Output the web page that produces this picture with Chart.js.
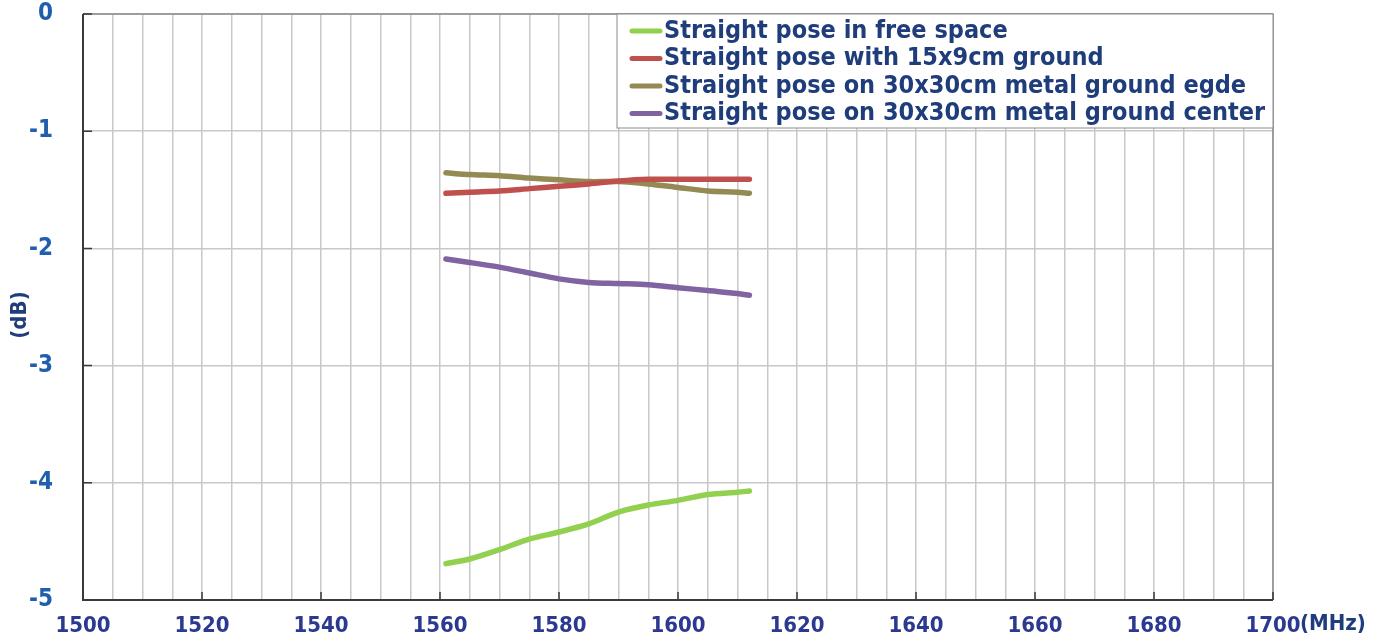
<!DOCTYPE html>
<html>
<head>
<meta charset="utf-8">
<script src="https://cdn.jsdelivr.net/npm/chart.js@4/dist/chart.umd.min.js"></script>
<style>
  html, body { margin: 0; padding: 0; background: #fff; }
  #wrap { width: 1385px; height: 643px; }
</style>
</head>
<body>
<div id="wrap"><canvas id="myChart" width="1385" height="643"></canvas></div>
<script>
// frequencies (MHz)
let freq = [1561, 1565, 1570, 1575, 1580, 1585, 1590, 1595, 1600, 1605, 1610, 1612];

// series values (dB)
let freeSpace  = [-4.69, -4.65, -4.57, -4.48, -4.42, -4.35, -4.25, -4.19, -4.15, -4.10, -4.08, -4.07];
let ground15x9 = [-1.53, -1.52, -1.51, -1.49, -1.47, -1.45, -1.425, -1.41, -1.41, -1.41, -1.41, -1.41];
let metalEdge  = [-1.355, -1.37, -1.38, -1.40, -1.415, -1.43, -1.43, -1.45, -1.48, -1.51, -1.52, -1.53];
let metalCenter = [-2.09, -2.12, -2.16, -2.21, -2.26, -2.29, -2.30, -2.31, -2.335, -2.36, -2.385, -2.40];

let seriesNames = [
    'Straight pose in free space',
    'Straight pose with 15x9cm ground',
    'Straight pose on 30x30cm metal ground egde',
    'Straight pose on 30x30cm metal ground center'
];
let seriesColors = ['#92D050', '#C0504D', '#948A54', '#8064A2'];
let seriesValues = [freeSpace, ground15x9, metalEdge, metalCenter];

// axis ticks
let xMin = 1500, xMax = 1700, xGridStep = 5, xLabelStep = 20;
let yMin = -5, yMax = 0, yStep = 1;

const FONT = "'DejaVu Sans Condensed', 'Liberation Sans', Arial, sans-serif";

function toPoints(vals) {
    return freq.map((f, i) => ({x: f, y: vals[i]}));
}

let datasets = seriesValues.map((vals, i) => ({
    label: seriesNames[i],
    data: toPoints(vals),
    borderColor: seriesColors[i],
    backgroundColor: seriesColors[i],
    borderWidth: 5.5,
    borderCapStyle: 'round',
    borderJoinStyle: 'round',
    pointRadius: 0,
    tension: 0.3,
    fill: false
}));

// frame, inner ticks, legend box and axis titles
let decorPlugin = {
    id: 'decor',
    afterDatasetsDraw(chart) {
        let c = chart.ctx, a = chart.chartArea;
        let xs = chart.scales.x, ys = chart.scales.y;
        c.save();
        // top/right border
        c.strokeStyle = '#8c8c8c';
        c.lineWidth = 1.5;
        c.beginPath();
        c.moveTo(a.left, a.top); c.lineTo(a.right, a.top); c.lineTo(a.right, a.bottom);
        c.stroke();
        // left/bottom axis lines
        c.strokeStyle = '#3a3a3a';
        c.lineWidth = 2;
        c.beginPath();
        c.moveTo(a.left, a.top); c.lineTo(a.left, a.bottom); c.lineTo(a.right, a.bottom);
        c.stroke();
        // inner ticks
        c.lineWidth = 1.5;
        c.beginPath();
        for (let v = yMin; v <= yMax; v += yStep) {
            let py = ys.getPixelForValue(v);
            c.moveTo(a.left, py); c.lineTo(a.left + 9, py);
        }
        for (let v = xMin; v <= xMax; v += xLabelStep) {
            let px = xs.getPixelForValue(v);
            c.moveTo(px, a.bottom); c.lineTo(px, a.bottom - 8);
        }
        c.stroke();

        // legend box
        let lx = 617, ly = a.top, lw = a.right - lx, lh = 114;
        c.fillStyle = '#fff';
        c.fillRect(lx, ly, lw, lh);
        c.strokeStyle = '#8c8c8c';
        c.lineWidth = 1;
        c.strokeRect(lx, ly, lw, lh);
        c.font = 'bold 25px ' + FONT;
        c.textBaseline = 'middle';
        c.textAlign = 'left';
        chart.data.datasets.forEach((ds, i) => {
            let ry = 31 + i * 27.5;
            c.strokeStyle = ds.borderColor;
            c.lineWidth = 5;
            c.lineCap = 'round';
            c.beginPath();
            c.moveTo(632, ry); c.lineTo(660, ry);
            c.stroke();
            c.fillStyle = '#1F3D7A';
            c.fillText(ds.label, 664, ry);
        });

        // axis titles
        c.fillStyle = '#1F3D7A';
        c.font = 'bold 22px ' + FONT;
        c.textAlign = 'left';
        c.textBaseline = 'middle';
        c.fillText('(MHz)', 1300, 624);
        c.translate(20, 315);
        c.rotate(-Math.PI / 2);
        c.textAlign = 'center';
        c.fillText('(dB)', 0, 0);
        c.restore();
    }
};

let ctx = document.querySelector('#myChart').getContext('2d');

let myChart = new Chart(ctx, {
    type: 'line',
    data: { datasets: datasets },
    options: {
        responsive: false,
        animation: false,
        layout: { padding: { top: 14, right: 112, left: 0, bottom: 0 } },
        plugins: { legend: { display: false }, tooltip: { enabled: false } },
        scales: {
            x: {
                type: 'linear',
                min: xMin, max: xMax,
                afterFit(s) { s.height = 43; s.paddingLeft = 0; s.paddingRight = 0; },
                border: { display: false },
                grid: { color: '#c8c8c8', lineWidth: 1.5, drawTicks: false },
                ticks: {
                    stepSize: xGridStep,
                    autoSkip: false,
                    maxRotation: 0,
                    padding: 13,
                    color: '#2B3990',
                    font: { family: FONT, size: 22, weight: 'bold' },
                    callback: v => (v % xLabelStep === 0 ? String(v) : '')
                }
            },
            y: {
                min: yMin, max: yMax,
                afterFit(s) { s.width = 83; s.paddingTop = 0; s.paddingBottom = 0; },
                border: { display: false },
                grid: { color: '#c8c8c8', lineWidth: 1.5, drawTicks: false },
                ticks: {
                    stepSize: yStep,
                    padding: 30,
                    color: '#1F5FAD',
                    font: { family: FONT, size: 24, weight: 'bold' }
                }
            }
        }
    },
    plugins: [decorPlugin]
});
</script>
</body>
</html>
